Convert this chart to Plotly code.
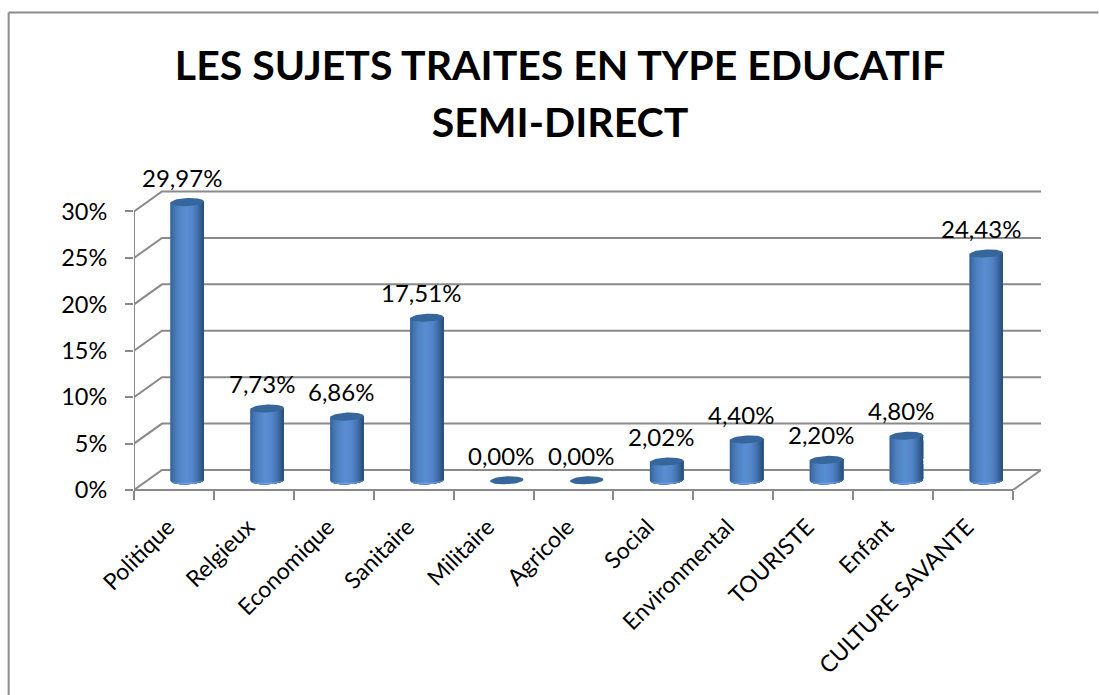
import math
import plotly.graph_objects as go

categories = ["Politique", "Relgieux", "Economique", "Sanitaire", "Militaire", "Agricole",
              "Social", "Environmental", "TOURISTE", "Enfant", "CULTURE SAVANTE"]
values = [29.97, 7.73, 6.86, 17.51, 0.00, 0.00, 2.02, 4.40, 2.20, 4.80, 24.43]
labels = ["29,97%", "7,73%", "6,86%", "17,51%", "0,00%", "0,00%", "2,02%", "4,40%", "2,20%", "4,80%", "24,43%"]
y_ticks = [0, 5, 10, 15, 20, 25, 30]
y_tick_text = ["0%", "5%", "10%", "15%", "20%", "25%", "30%"]
title_lines = ["LES SUJETS TRAITES EN TYPE EDUCATIF", "SEMI-DIRECT"]

W, H = 1099, 695
PLOT_L, PLOT_R, PLOT_T, PLOT_B = 133.5, 1041.5, 189.5, 489.7
PX_X = 80.0          # pixels per category
PX_Y = 9.29          # pixels per percent
DX, DY = 28 / PX_X, 20 / PX_Y   # depth offset of the back wall
XMAX = (PLOT_R - PLOT_L) / PX_X
YMAX = (PLOT_B - PLOT_T) / PX_Y
GRID = "#8a8a8a"
FONT = "Lato, Carlito, Calibri, sans-serif"

BAR_OFF = 13.2 / PX_X
BAR_W = 33.4 / PX_X
BASE = 9.7 / PX_Y
RY = 4.0 / PX_Y
TILT = 0.045 * PX_X / PX_Y    # ellipse rises a little to the right

# colour across the cylinder, from left edge to right edge
stops = [(0.00, (50, 92, 142)), (0.06, (62, 110, 168)), (0.20, (78, 128, 192)),
         (0.45, (90, 142, 210)), (0.65, (84, 134, 200)), (0.82, (66, 112, 172)),
         (0.94, (48, 88, 136)), (1.00, (42, 76, 118))]


def colour(t):
    for (a, ca), (b, cb) in zip(stops, stops[1:]):
        if t <= b:
            f = (t - a) / (b - a)
            return "rgb(%d,%d,%d)" % tuple(round(p + (q - p) * f) for p, q in zip(ca, cb))
    return "rgb(42,76,118)"


def ell_y(u, sign):
    # u in [-1, 1] across the cylinder; sign -1 lower half, +1 upper half
    return sign * RY * math.sqrt(max(0.0, 1 - u * u)) + TILT * u * BAR_W / 2


fig = go.Figure()

# walls: gridlines with their diagonal return to the front axis
gx, gy = [], []
for t in y_ticks:
    gx += [0, DX, XMAX, None]
    gy += [t, t + DY, t + DY, None]
gx += [len(categories), XMAX, None]
gy += [0, DY, None]
fig.add_trace(go.Scatter(x=gx, y=gy, mode="lines", line=dict(color=GRID, width=2),
                         hoverinfo="skip", showlegend=False, cliponaxis=False))

centres = [i + 0.5 + BAR_OFF for i in range(len(values))]
tall = [i for i, v in enumerate(values) if v > 0]

# cylinder body
fig.add_trace(go.Bar(x=centres, y=values, base=[BASE] * len(values), width=BAR_W,
                     marker=dict(color="rgb(78,128,192)", line=dict(width=0)),
                     showlegend=False, hoverinfo="skip"))

# shaded strips: each polygon runs from its own left edge to the right edge of the cylinder
N = 34
for k in range(N):
    t = k / N
    u0 = -1 + 2 * t
    us = [u0 + (1 - u0) * j / 14 for j in range(15)]
    xs, ys = [], []
    for i in tall:
        lower = BASE
        upper = BASE + values[i]
        for u in us:
            xs.append(centres[i] + u * BAR_W / 2)
            ys.append(lower + ell_y(u, -1))
        for u in reversed(us):
            xs.append(centres[i] + u * BAR_W / 2)
            ys.append(upper + ell_y(u, -1))
        xs.append(None)
        ys.append(None)
    fig.add_trace(go.Scatter(x=xs, y=ys, mode="lines", fill="toself", fillcolor=colour(t + 0.5 / N),
                             line=dict(width=0), hoverinfo="skip", showlegend=False))

# light rim along the bottom of each cylinder
rx, ry = [], []
us = [-1 + 2 * j / 30 for j in range(31)]
for i in tall:
    for u in us:
        rx.append(centres[i] + u * BAR_W / 2)
        ry.append(BASE + ell_y(u, -1))
    for u in reversed(us):
        rx.append(centres[i] + u * BAR_W / 2)
        ry.append(BASE + ell_y(u, -1) + 1.6 / PX_Y * math.sqrt(1 - u * u))
    rx.append(None)
    ry.append(None)
fig.add_trace(go.Scatter(x=rx, y=ry, mode="lines", fill="toself", fillcolor="rgba(125,175,235,0.55)",
                         line=dict(width=0), hoverinfo="skip", showlegend=False))

# top caps
cx, cy = [], []
for i, v in enumerate(values):
    for j in range(49):
        a = 2 * math.pi * j / 48
        u = math.cos(a)
        cx.append(centres[i] + u * BAR_W / 2)
        cy.append(BASE + v + RY * math.sin(a) + TILT * u * BAR_W / 2)
    cx.append(None)
    cy.append(None)
fig.add_trace(go.Scatter(x=cx, y=cy, mode="lines", fill="toself", fillcolor="rgb(54,102,156)",
                         line=dict(width=0), hoverinfo="skip", showlegend=False))

# data labels: anchored on each cylinder top, nudged up in pixels
data_labels = [dict(x=c, y=BASE + v, xref="x", yref="y", text=s, showarrow=False,
                    xanchor="center", yanchor="middle", xshift=-5.5, yshift=25,
                    font=dict(family=FONT, size=24, color="#000000"))
               for c, v, s in zip(centres, values, labels)]

title_text = "<br>".join('<span style="font-size:41px">%s</span>' % s for s in title_lines)

fig.update_layout(
    width=W, height=H, autosize=False,
    margin=dict(l=PLOT_L, r=W - PLOT_R, t=PLOT_T, b=H - PLOT_B, pad=0),
    paper_bgcolor="white", plot_bgcolor="white",
    barmode="overlay", showlegend=False,
    annotations=data_labels,
    title=dict(text=title_text, x=560 / W, xanchor="center", y=0.885, yanchor="top", yref="container",
               font=dict(family=FONT, size=44, color="#000000", weight="bold")),
    xaxis=dict(range=[0, XMAX], tickmode="array",
               tickvals=[i + 0.5 for i in range(len(categories))], ticktext=categories,
               tickangle=-45, ticklen=0, showgrid=False, zeroline=False, showline=False,
               ticklabelstandoff=18, ticklabelshift=-6,
               tickfont=dict(family=FONT, size=23, color="#000000"),
               minor=dict(tickmode="array", tickvals=list(range(len(categories) + 1)),
                          ticks="outside", ticklen=9, tickwidth=2, tickcolor=GRID, showgrid=False)),
    yaxis=dict(range=[0, YMAX], tickmode="array", tickvals=y_ticks, ticktext=y_tick_text,
               ticks="outside", ticklen=8, tickwidth=2, tickcolor=GRID, showgrid=False,
               zeroline=False, showline=False, ticklabelstandoff=13,
               tickfont=dict(family=FONT, size=23.5, color="#000000")),
    shapes=[
        dict(type="line", xref="paper", yref="paper", x0=0, x1=len(categories) / XMAX, y0=0, y1=0,
             line=dict(color=GRID, width=2), layer="below"),
        dict(type="line", xref="x", yref="y", x0=0, x1=0, y0=0, y1=30,
             line=dict(color=GRID, width=2), layer="below"),
        dict(type="line", xref="paper", yref="paper", x0=(8 - PLOT_L) / (PLOT_R - PLOT_L),
             x1=(W - PLOT_L) / (PLOT_R - PLOT_L), y0=(PLOT_B - 12) / (PLOT_B - PLOT_T),
             y1=(PLOT_B - 12) / (PLOT_B - PLOT_T), line=dict(color="#8c8c8c", width=2)),
        dict(type="line", xref="paper", yref="paper", x0=(8 - PLOT_L) / (PLOT_R - PLOT_L),
             x1=(8 - PLOT_L) / (PLOT_R - PLOT_L), y0=(PLOT_B - 12) / (PLOT_B - PLOT_T),
             y1=(PLOT_B - H) / (PLOT_B - PLOT_T), line=dict(color="#8c8c8c", width=2)),
    ],
)

fig.write_html("out.html", config=dict(displayModeBar=False),
               post_script="document.body.style.margin='0';document.body.style.overflow='hidden';")
